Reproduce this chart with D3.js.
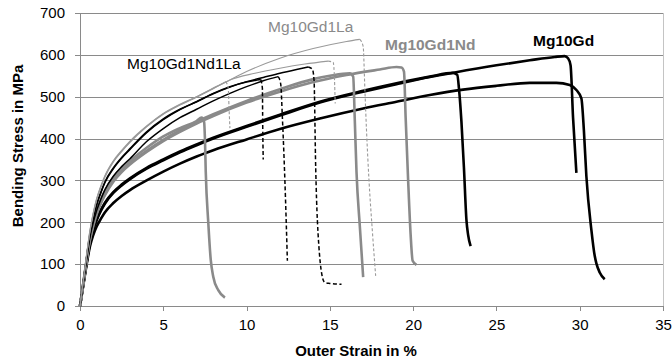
<!DOCTYPE html>
<html>
<head>
<meta charset="utf-8">
<script src="https://cdn.jsdelivr.net/npm/d3@7"></script>
<style>
  body { margin: 0; background: #fff; }
  svg { font-family: "Liberation Sans", Arial, sans-serif; }
</style>
</head>
<body>
<div id="chart"></div>
<script>
const WIDTH = 672;
const HEIGHT = 363;
const OFFSET_LEFT = 80;
const OFFSET_RIGHT = 9;
const OFFSET_TOP = 13;
const OFFSET_BOTTOM = 57;

const strainTicks = [0, 5, 10, 15, 20, 25, 30, 35];
const stressTicks = [0, 100, 200, 300, 400, 500, 600, 700];

// Mg10Gd (black, thick)
const mg10Gd_a = [[0,0],[0.3,78],[0.6,150],[0.8,182],[1,205],[1.25,227],[1.5,245],[2,270],[2.5,288],[3,303],[4,328],[5,348],[6,367],[7,384],[8,400],[10,428],[12,455],[14.4,486],[17,512],[19,530],[21,547],[22.5,558],[25,575],[27,587],[28.5,595],[29.1,597],[29.3,592],[29.45,575],[29.6,450],[29.8,318]];
const mg10Gd_b = [[0,0],[0.3,75],[0.6,143],[0.8,170],[1,190],[1.25,208],[1.5,224],[2,246],[2.5,263],[3,277],[4,300],[5,321],[6,340],[7,357],[8,372],[10,398],[12,423],[14.4,448],[17,472],[19,488],[21,504],[23,517],[25,526],[27,533],[28.6,533],[29.4,528],[29.8,516],[30.1,496],[30.25,420],[30.4,310],[30.7,182],[30.9,120],[31.0,102],[31.2,80],[31.5,64]];
const mg10Gd_c = [[0,0],[0.3,79],[0.6,152],[0.8,184],[1,207],[1.25,229],[1.5,247],[2,272],[2.5,290],[3,305],[4,330],[5,350],[6,369],[7,386],[8,402],[10,430],[12,457],[14.4,488],[17,514],[19,532],[21,548],[22.4,557],[22.65,552],[22.75,520],[22.9,440],[23.05,330],[23.2,205],[23.3,170],[23.45,143]];

// Mg10Gd1Nd (grey, thick)
const mg10Gd1Nd_a = [[0,0],[0.3,84],[0.6,164],[0.8,200],[1,228],[1.25,254],[1.5,275],[2,307],[2.5,330],[3,347],[4,378],[5,405],[6,425],[7,442],[7.3,450],[7.45,440],[7.5,400],[7.55,320],[7.7,200],[7.85,110],[8.0,70],[8.3,38],[8.7,20]];
const mg10Gd1Nd_b = [[0,0],[0.3,82],[0.6,160],[0.8,195],[1,222],[1.25,248],[1.5,268],[2,300],[2.5,323],[3,341],[4,371],[5,397],[6,420],[7,440],[8,458],[10,490],[12,518],[14,542],[15,550],[16.2,556],[16.4,548],[16.5,440],[16.6,320],[16.8,190],[17.0,69]];
const mg10Gd1Nd_c = [[0,0],[0.3,81],[0.6,158],[0.8,192],[1,219],[1.25,245],[1.5,265],[2,297],[2.5,320],[3,338],[4,368],[5,394],[6,416],[7,436],[8,454],[10,486],[12,512],[14,535],[16,552],[18,565],[19,571],[19.3,570],[19.45,560],[19.55,450],[19.7,300],[19.85,170],[19.97,108],[20.2,98]];

// Mg10Gd1Nd1La (black, dashed after the peak)
const mg10Gd1Nd1La_a = [[0,0],[0.3,88],[0.6,172],[0.8,212],[1,243],[1.25,272],[1.5,297],[2,330],[2.5,355],[3,376],[4,416],[5,447],[6,470],[7,488],[8,508],[9,524],[10,535],[10.85,541],[10.95,520],[10.97,430],[11.0,350]];
const mg10Gd1Nd1La_b = [[0,0],[0.3,85],[0.6,165],[0.8,200],[1,228],[1.25,255],[1.5,278],[2,310],[2.5,333],[3,352],[4,393],[5,424],[6,450],[7,470],[8,490],[9,508],[10,524],[11,538],[11.9,548],[12.05,530],[12.15,450],[12.3,300],[12.45,108]];
const mg10Gd1Nd1La_c = [[0,0],[0.3,87],[0.6,170],[0.8,210],[1,241],[1.25,270],[1.5,295],[2,328],[2.5,353],[3,374],[4,414],[5,445],[6,469],[7,488],[8,507],[9,523],[10,536],[11,546],[12,556],[13,565],[13.7,571],[13.95,566],[14.05,540],[14.15,330],[14.25,205],[14.6,62],[14.7,56],[15.0,54],[15.7,52]];

// Mg10Gd1La (grey, thin, dashed after the peak)
const mg10Gd1La_a = [[0,0],[0.3,92],[0.6,182],[0.8,224],[1,257],[1.25,287],[1.5,312],[2,347],[2.5,372],[3,394],[4,430],[5,460],[6,482],[7,500],[8,520],[8.8,536],[10,560],[12,592],[14,615],[16,632],[16.8,637],[17.0,620],[17.1,520],[17.2,420],[17.35,300],[17.55,180],[17.75,72]];
const mg10Gd1La_b = [[0,0],[0.3,90],[0.6,178],[0.8,220],[1,253],[1.25,283],[1.5,308],[2,344],[2.5,369],[3,391],[4,428],[5,458],[6,480],[7,499],[8,519],[9,540],[10.5,556],[12,568],[13.5,578],[14.9,585],[15.2,582],[15.28,540],[15.32,484]];
const mg10Gd1La_c = [[0,0],[0.3,91],[0.6,180],[0.8,222],[1,255],[1.25,285],[1.5,310],[2,345],[2.5,370],[3,392],[4,429],[5,459],[6,481],[7,500],[8,521],[8.75,536],[8.9,520],[8.95,470],[9.0,425]];

const series = [
  { group: "Mg10Gd", values: mg10Gd_a },
  { group: "Mg10Gd", values: mg10Gd_b },
  { group: "Mg10Gd", values: mg10Gd_c },
  { group: "Mg10Gd1Nd", values: mg10Gd1Nd_a },
  { group: "Mg10Gd1Nd", values: mg10Gd1Nd_b },
  { group: "Mg10Gd1Nd", values: mg10Gd1Nd_c },
  { group: "Mg10Gd1Nd1La", values: mg10Gd1Nd1La_a },
  { group: "Mg10Gd1Nd1La", values: mg10Gd1Nd1La_b },
  { group: "Mg10Gd1Nd1La", values: mg10Gd1Nd1La_c },
  { group: "Mg10Gd1La", values: mg10Gd1La_a },
  { group: "Mg10Gd1La", values: mg10Gd1La_b },
  { group: "Mg10Gd1La", values: mg10Gd1La_c }
];

// how each alloy is drawn; dashedDrop = the fracture part after the max is dashed
const styles = {
  "Mg10Gd":       { color: "#000000", width: 2.6, dashedDrop: false },
  "Mg10Gd1Nd":    { color: "#8a8a8a", width: 2.6, dashedDrop: false },
  "Mg10Gd1Nd1La": { color: "#000000", width: 1.5, dashedDrop: true, dash: "4,2.5" },
  "Mg10Gd1La":    { color: "#9a9a9a", width: 1.1, dashedDrop: true, dash: "3,2" }
};

const labels = [
  { text: "Mg10Gd1La", x: 268, y: 32, color: "#8a8a8a", weight: "normal" },
  { text: "Mg10Gd1Nd1La", x: 127, y: 69, color: "#000000", weight: "normal" },
  { text: "Mg10Gd1Nd", x: 385, y: 50, color: "#8a8a8a", weight: "bold" },
  { text: "Mg10Gd", x: 533, y: 46, color: "#000000", weight: "bold" }
];

const svg = d3.select("#chart")
  .append("svg")
  .attr("width", WIDTH)
  .attr("height", HEIGHT);

const xScale = d3.scaleLinear()
  .domain([0, 35])
  .range([OFFSET_LEFT, WIDTH - OFFSET_RIGHT]);

const yScale = d3.scaleLinear()
  .domain([0, 700])
  .range([HEIGHT - OFFSET_BOTTOM, OFFSET_TOP]);

// plot area border (right / top)
svg.append("rect")
  .attr("x", OFFSET_LEFT)
  .attr("y", OFFSET_TOP)
  .attr("width", WIDTH - OFFSET_RIGHT - OFFSET_LEFT)
  .attr("height", HEIGHT - OFFSET_BOTTOM - OFFSET_TOP)
  .attr("fill", "none")
  .attr("stroke", "#c4c4c4")
  .attr("shape-rendering", "crispEdges");

// horizontal grid lines
svg.append("g")
  .attr("transform", "translate(" + OFFSET_LEFT + ",0)")
  .call(d3.axisLeft(yScale).tickValues(stressTicks)
    .tickSize(-(WIDTH - OFFSET_RIGHT - OFFSET_LEFT)).tickFormat(""))
  .call(g => g.select(".domain").remove())
  .call(g => g.selectAll("line").attr("stroke", "#8a8a8a").attr("shape-rendering", "crispEdges"));

// y axis
svg.append("g")
  .attr("transform", "translate(" + OFFSET_LEFT + ",0)")
  .call(d3.axisLeft(yScale).tickValues(stressTicks).tickSize(5).tickPadding(10).tickSizeOuter(0))
  .call(g => g.selectAll("path, line").attr("stroke", "#8a8a8a").attr("shape-rendering", "crispEdges"))
  .call(g => g.selectAll("text").attr("fill", "#000").style("font-size", "15px")
    .style("font-family", "'Liberation Sans', Arial, sans-serif"));

// x axis
svg.append("g")
  .attr("transform", "translate(0," + (HEIGHT - OFFSET_BOTTOM) + ")")
  .call(d3.axisBottom(xScale).tickValues(strainTicks).tickSize(5).tickPadding(8).tickSizeOuter(0))
  .call(g => g.selectAll("path, line").attr("stroke", "#8a8a8a").attr("shape-rendering", "crispEdges"))
  .call(g => g.selectAll("text").attr("fill", "#000").style("font-size", "15px")
    .style("font-family", "'Liberation Sans', Arial, sans-serif"));

// axis titles
svg.append("text")
  .attr("x", 356)
  .attr("y", 356)
  .attr("text-anchor", "middle")
  .style("font-size", "15px")
  .style("font-weight", "bold")
  .text("Outer Strain in %");

svg.append("text")
  .attr("transform", "translate(23,146) rotate(-90)")
  .attr("text-anchor", "middle")
  .style("font-size", "15px")
  .style("font-weight", "bold")
  .text("Bending Stress in MPa");

// curves
const line = d3.line()
  .x(d => xScale(d[0]))
  .y(d => yScale(d[1]))
  .curve(d3.curveMonotoneX);

const curves = svg.append("g").attr("fill", "none").attr("stroke-linejoin", "round");

series.forEach(s => {
  const st = styles[s.group];
  if (st.dashedDrop) {
    const peak = d3.maxIndex(s.values, d => d[1]);
    curves.append("path")
      .attr("d", line(s.values.slice(0, peak + 1)))
      .attr("stroke", st.color)
      .attr("stroke-width", st.width);
    curves.append("path")
      .attr("d", line(s.values.slice(peak)))
      .attr("stroke", st.color)
      .attr("stroke-width", st.width)
      .attr("stroke-dasharray", st.dash);
  } else {
    curves.append("path")
      .attr("d", line(s.values))
      .attr("stroke", st.color)
      .attr("stroke-width", st.width);
  }
});

// series labels
svg.selectAll(".series-label")
  .data(labels)
  .enter()
  .append("text")
  .attr("class", "series-label")
  .attr("x", d => d.x)
  .attr("y", d => d.y)
  .attr("fill", d => d.color)
  .style("font-size", "15.5px")
  .style("font-weight", d => d.weight)
  .text(d => d.text);
</script>
</body>
</html>
